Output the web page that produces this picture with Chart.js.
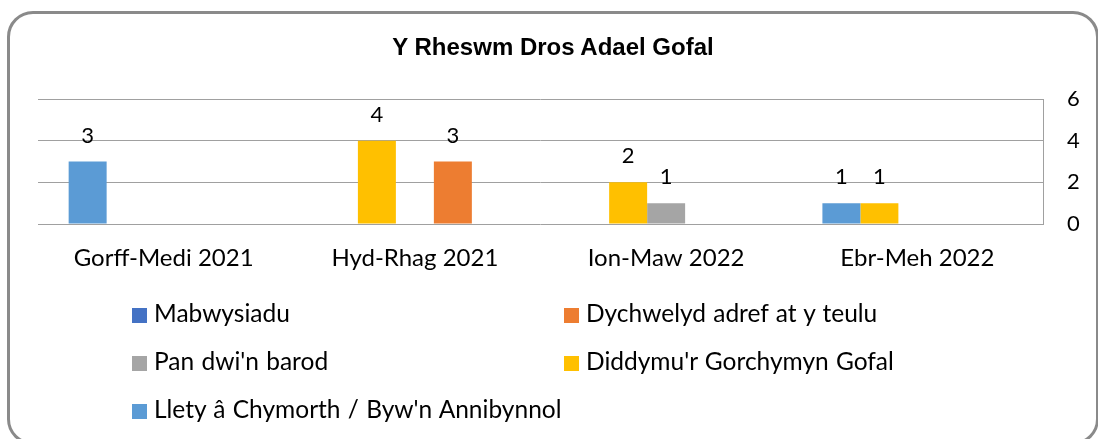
<!DOCTYPE html>
<html>
<head>
<meta charset="utf-8">
<script src="https://cdn.jsdelivr.net/npm/chart.js@4.4.1/dist/chart.umd.min.js"></script>
<style>
html,body{margin:0;padding:0;width:1098px;height:439px;overflow:hidden;background:#fff;}
#frame{position:absolute;left:7px;top:11px;width:1092px;height:434px;box-sizing:border-box;border:3.5px solid #8a8a8a;border-radius:26px;}
#title{position:absolute;left:0;top:35px;width:1106px;text-align:center;font:bold 24px/24px "Liberation Sans",Arial,sans-serif;color:#000;white-space:nowrap;}
#chart{position:absolute;left:0;top:0;}
.lg{position:absolute;font:24.5px/24px Lato,sans-serif;color:#000;white-space:nowrap;word-spacing:1px;}
.sw{position:absolute;width:15px;height:15px;}
</style>
</head>
<body>
<div id="frame"></div>
<canvas id="chart" width="1098" height="439"></canvas>
<div id="title">Y Rheswm Dros Adael Gofal</div>
<div id="legend"></div>
<script>
// ---- data ----
const categories = ['Gorff-Medi 2021', 'Hyd-Rhag 2021', 'Ion-Maw 2022', 'Ebr-Meh 2022'];
const seriesNames = ['Mabwysiadu', 'Dychwelyd adref at y teulu', "Pan dwi'n barod", "Diddymu'r Gorchymyn Gofal", "Llety â Chymorth / Byw'n Annibynnol"];
const mabwysiadu = [null, null, null, null];
const dychwelyd = [null, 3, null, null];
const panDwinBarod = [null, null, 1, null];
const diddymu = [null, 4, 2, 1];
const llety = [3, null, null, 1];
const yTicks = [0, 2, 4, 6];
const seriesColors = ['#4472C4', '#ED7D31', '#A5A5A5', '#FFC000', '#5B9BD5'];

const seriesValues = [mabwysiadu, dychwelyd, panDwinBarod, diddymu, llety];

// plot order is reverse of legend order
const datasets = [];
for (let i = seriesValues.length - 1; i >= 0; i--) {
  datasets.push({
    label: seriesNames[i],
    data: seriesValues[i],
    backgroundColor: seriesColors[i],
    borderWidth: 0,
    barPercentage: 1.0,
    categoryPercentage: 0.756
  });
}

const valueLabels = {
  id: 'valueLabels',
  afterDatasetsDraw(chart) {
    const ctx = chart.ctx;
    ctx.save();
    ctx.font = '22px Lato, sans-serif';
    ctx.fillStyle = '#000';
    ctx.textAlign = 'center';
    ctx.textBaseline = 'alphabetic';
    chart.data.datasets.forEach((ds, i) => {
      const meta = chart.getDatasetMeta(i);
      meta.data.forEach((el, j) => {
        const v = ds.data[j];
        if (v === null || v === undefined || v === 0) return;
        ctx.fillText(String(v), el.x, el.y - 19);
      });
    });
    ctx.restore();
  }
};

new Chart(document.getElementById('chart'), {
  type: 'bar',
  data: { labels: categories, datasets: datasets },
  options: {
    responsive: false,
    animation: false,
    devicePixelRatio: 1,
    layout: { padding: { left: 38, top: 99, right: 0, bottom: 145 } },
    plugins: { legend: { display: false }, title: { display: false }, tooltip: { enabled: false } },
    scales: {
      x: {
        grid: { display: false },
        border: { display: false },
        ticks: { color: '#000', font: { family: 'Lato', size: 24 }, padding: 12, maxRotation: 0, autoSkip: false },
        afterFit(scale) { scale.height = 70; }
      },
      y: {
        position: 'right',
        min: 0, max: 6,
        afterBuildTicks(scale) { scale.ticks = yTicks.map(v => ({ value: v })); },
        grid: { color: '#a0a0a0', lineWidth: 1, drawTicks: false },
        border: { display: true, color: '#a0a0a0', width: 1 },
        ticks: { color: '#000', font: { family: 'Lato', size: 22 }, padding: 24 },
        afterFit(scale) { scale.width = 55; }
      }
    }
  },
  plugins: [valueLabels]
});

// legend (two-column grid, legend order)
const legendPos = [
  { sx: 132, tx: 154, base: 323 },
  { sx: 564, tx: 586, base: 323 },
  { sx: 132, tx: 154, base: 371 },
  { sx: 564, tx: 586, base: 371 },
  { sx: 132, tx: 154, base: 419 }
];
const lg = document.getElementById('legend');
seriesNames.forEach((name, i) => {
  const p = legendPos[i];
  const sw = document.createElement('div');
  sw.className = 'sw';
  sw.style.left = p.sx + 'px';
  sw.style.top = (p.base - 15) + 'px';
  sw.style.background = seriesColors[i];
  lg.appendChild(sw);
  const t = document.createElement('div');
  t.className = 'lg';
  t.style.left = p.tx + 'px';
  t.style.top = (p.base - 21.6) + 'px';
  t.textContent = name;
  lg.appendChild(t);
});
</script>
</body>
</html>
